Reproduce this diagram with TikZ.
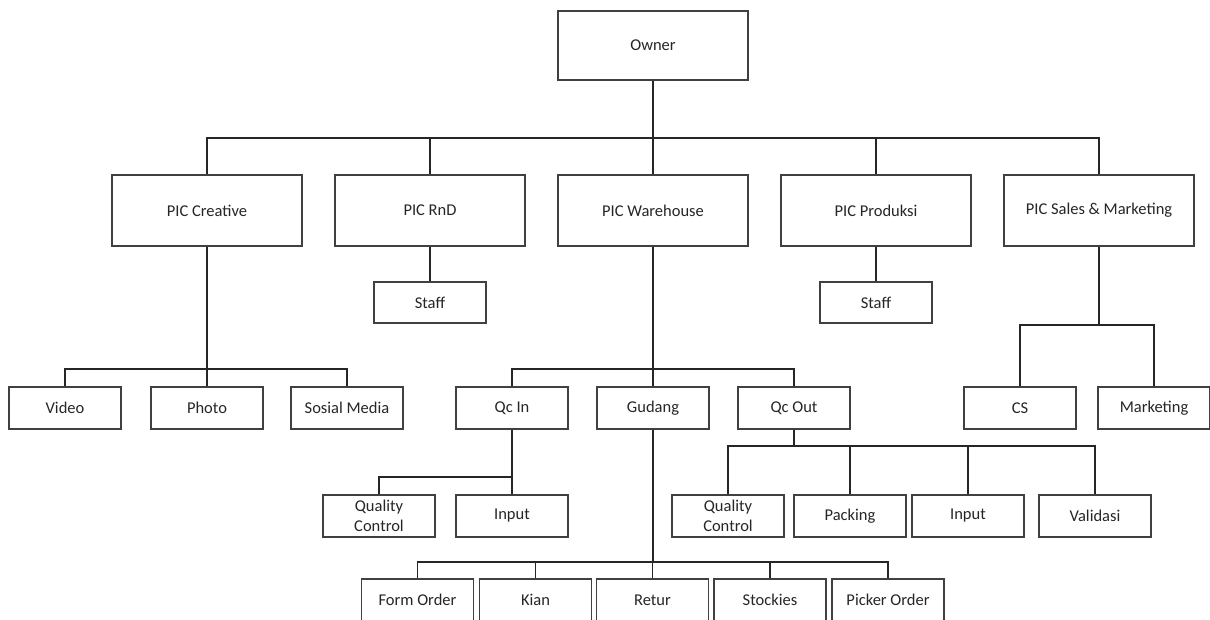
\documentclass[tikz,border=0pt]{standalone}
\usepackage{fontspec}
\setmainfont{Carlito}
\begin{document}
\begin{tikzpicture}[x=1pt,y=-1pt,
  box/.style={draw=black!75, line width=1.2pt, fill=white, minimum width=112pt,
    minimum height=42pt, inner sep=0pt, font=\fontsize{16.5}{20}\selectfont,
    text=black!85, align=center},
  big/.style={box, minimum width=190pt, minimum height=71pt},
  conn/.style={draw=black!85, line width=1.3pt}]
\useasboundingbox (0,0) rectangle (1210,619);
\clip (0,0) rectangle (1210,619);
% bus levels
\coordinate (b0) at (0,138);
\coordinate (b1) at (0,369);
\coordinate (b2) at (0,325);
\coordinate (b3) at (0,477);
\coordinate (b4) at (0,446);
\coordinate (b5) at (0,562);
% top
\node[big, minimum height=69pt] (owner) at (653,45.5) {Owner};
\node[big] (creative) at (207,210.5) {PIC Creative};
\node[big] (rnd) at (430,210.5) {PIC RnD};
\node[big] (warehouse) at (653,210.5) {PIC Warehouse};
\node[big] (produksi) at (876,210.5) {PIC Produksi};
\node[big] (sales) at (1099,210.5) {PIC Sales \& Marketing};
% staff
\node[box, minimum height=41pt] (staffr) at (430,302.5) {Staff};
\node[box, minimum height=41pt] (staffp) at (876,302.5) {Staff};
% row 3
\node[box] (video) at (65,408) {Video};
\node[box] (photo) at (207,408) {Photo};
\node[box] (sosial) at (347,408) {Sosial Media};
\node[box] (qcin) at (512,408) {Qc In};
\node[box] (gudang) at (653,408) {Gudang};
\node[box] (qcout) at (794,408) {Qc Out};
\node[box] (cs) at (1020,408) {CS};
\node[box] (marketing) at (1154,408) {Marketing};
% row 4
\node[box] (qca) at (379,516) {Quality\\Control};
\node[box] (inputa) at (512,516) {Input};
\node[box] (qcb) at (728,516) {Quality\\Control};
\node[box] (packing) at (850,516) {Packing};
\node[box] (inputb) at (968,516) {Input};
\node[box] (validasi) at (1095,516) {Validasi};
% row 5
\node[box] (form) at (417.5,600) {Form Order};
\node[box] (kian) at (535.5,600) {Kian};
\node[box] (retur) at (652.5,600) {Retur};
\node[box] (stockies) at (770,600) {Stockies};
\node[box] (picker) at (888,600) {Picker Order};
% connectors
\foreach \n in {creative,rnd,warehouse,produksi,sales}
  \draw[conn] (owner.south) -- (owner.south |- b0) -| (\n.north);
\foreach \n in {video,photo,sosial}
  \draw[conn] (creative.south) -- (creative.south |- b1) -| (\n.north);
\foreach \n in {qcin,gudang,qcout}
  \draw[conn] (warehouse.south) -- (warehouse.south |- b1) -| (\n.north);
\foreach \n in {cs,marketing}
  \draw[conn] (sales.south) -- (sales.south |- b2) -| (\n.north);
\draw[conn] (rnd.south) -- (staffr.north);
\draw[conn] (produksi.south) -- (staffp.north);
\foreach \n in {qca,inputa}
  \draw[conn] (qcin.south) -- (qcin.south |- b3) -| (\n.north);
\foreach \n in {qcb,packing,inputb,validasi}
  \draw[conn] (qcout.south) -- (qcout.south |- b4) -| (\n.north);
\foreach \n in {form,kian,retur,stockies,picker}
  \draw[conn] (gudang.south) -- (gudang.south |- b5) -| (\n.north);
\end{tikzpicture}
\end{document}
